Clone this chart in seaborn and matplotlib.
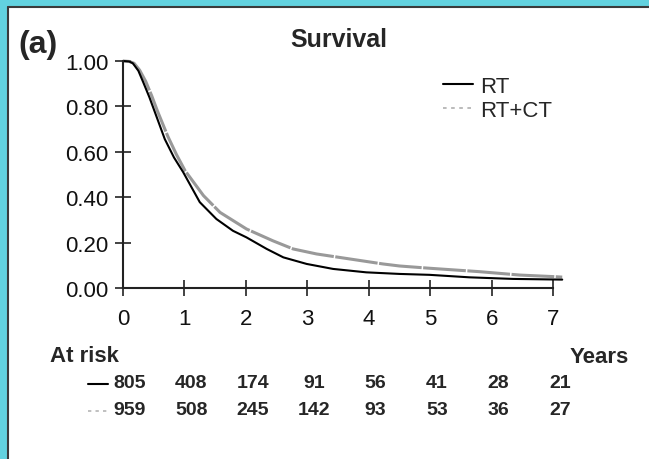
import matplotlib
matplotlib.use("Agg")
import matplotlib.pyplot as plt
import matplotlib.transforms as mtransforms
from matplotlib.lines import Line2D
from matplotlib.patches import Rectangle
import seaborn as sns
import pandas as pd

# ---- data ----
rt_years = [0, 0.1, 0.16, 0.25, 0.33, 0.43, 0.52, 0.68, 0.83, 0.98, 1.25, 1.52, 1.79, 2.01, 2.34,
            2.61, 2.99, 3.42, 3.96, 4.5, 4.99, 5.64, 6.35, 7.15]
rt_surv = [1.0, 0.998, 0.99, 0.957, 0.906, 0.84, 0.774, 0.656, 0.575, 0.51, 0.378, 0.304, 0.252, 0.223, 0.172,
           0.135, 0.106, 0.084, 0.069, 0.062, 0.058, 0.047, 0.04, 0.037]
rtct_years = [0, 0.1, 0.18, 0.27, 0.37, 0.47, 0.56, 0.73, 0.87, 1.01, 1.31, 1.58, 2.01, 2.44, 2.77,
              3.15, 3.69, 4.23, 4.5, 4.99, 5.8, 6.46, 7.02, 7.15]
rtct_surv = [1.0, 0.998, 0.99, 0.96, 0.91, 0.845, 0.78, 0.668, 0.588, 0.517, 0.407, 0.333, 0.26, 0.208, 0.172,
             0.15, 0.128, 0.106, 0.097, 0.087, 0.072, 0.057, 0.05, 0.048]
risk_years = [0, 1, 2, 3, 4, 5, 6, 7]
risk_rt = [805, 408, 174, 91, 56, 41, 28, 21]
risk_rtct = [959, 508, 245, 142, 93, 53, 36, 27]
yticks = [0.0, 0.2, 0.4, 0.6, 0.8, 1.0]
ytick_labels = ["0.00", "0.20", "0.40", "0.60", "0.80", "1.00"]
xticks = [0, 1, 2, 3, 4, 5, 6, 7]

sns.set_style("white")
plt.rcParams['font.family'] = ['Liberation Sans', 'DejaVu Sans']

W, H = 649, 460
fig = plt.figure(figsize=(W / 100, H / 100), dpi=100)
fig.patch.set_facecolor("white")

# cyan frame (top and left)
cyan = "#62d2df"
fig.patches.append(Rectangle((0, 1 - 7 / H), 1, 7 / H, transform=fig.transFigure,
                             facecolor=cyan, edgecolor="none", zorder=0))
fig.patches.append(Rectangle((0, 0), 7 / W, 1, transform=fig.transFigure,
                             facecolor=cyan, edgecolor="none", zorder=0))
fig.add_artist(Line2D([8 / W, 1], [1 - 8 / H, 1 - 8 / H], transform=fig.transFigure,
                      color="#3a3a3a", lw=1.5))
fig.add_artist(Line2D([8 / W, 8 / W], [0, 1 - 8 / H], transform=fig.transFigure,
                      color="#3a3a3a", lw=1.5))

ax = fig.add_axes([123 / W, 171 / H, 442.3 / W, 227 / H])
ax.set_facecolor("none")

df_rt = pd.DataFrame({"years": rt_years, "surv": rt_surv})
df_rtct = pd.DataFrame({"years": rtct_years, "surv": rtct_surv})

sns.lineplot(data=df_rtct, x="years", y="surv", ax=ax, color="#999999", lw=2.2,
             label="RT+CT", clip_on=False)
ax.lines[-1].set_dashes((14, 0.5))
sns.lineplot(data=df_rt, x="years", y="surv", ax=ax, color="black", lw=1.5,
             label="RT", clip_on=False)

ax.set_xlim(0, 7.2)
ax.set_ylim(0, 1)
ax.set_xticks(xticks)
ax.set_xticklabels([str(v) for v in xticks])
ax.set_yticks(yticks)
ax.set_yticklabels(ytick_labels)
ax.set_xlabel("")
ax.set_ylabel("")
for s in ["top", "right"]:
    ax.spines[s].set_visible(False)
for s in ["left", "bottom"]:
    ax.spines[s].set_linewidth(1.5)
    ax.spines[s].set_color("#222222")
ax.spines["bottom"].set_bounds(0, 7)
ax.tick_params(axis="both", bottom=True, left=True, direction="inout", length=11,
               width=1.2, color="#222222", labelsize=16, labelcolor="#111111")
ax.tick_params(axis="x", pad=9)
ax.tick_params(axis="y", pad=5)

handles = [Line2D([], [], color="black", lw=1.5),
           Line2D([], [], color="#b5b5b5", lw=1.3, dashes=(2, 2.5))]
leg = ax.legend(handles, ["RT", "RT+CT"], frameon=False, fontsize=16,
                loc="upper left", bbox_to_anchor=(443 / W, 1 - 77 / H),
                bbox_transform=fig.transFigure, handlelength=1.35, handletextpad=0.3,
                labelspacing=0.12, borderpad=0, borderaxespad=0)

fig.text(18 / W, 1 - 45 / H, "(a)", fontsize=23, fontweight="bold", ha="left", va="center")
fig.text(339 / W, 1 - 40 / H, "Survival", fontsize=18, fontweight="bold", ha="center", va="center")
fig.text(50 / W, 1 - 357 / H, "At risk", fontsize=16, fontweight="bold", ha="left", va="center")
fig.text(629 / W, 1 - 358 / H, "Years", fontsize=16, fontweight="bold", ha="right", va="center")

trans = mtransforms.blended_transform_factory(ax.transData, fig.transFigure)
for yr, a, b in zip(risk_years, risk_rt, risk_rtct):
    ax.text(yr + 0.11, 1 - 384 / H, str(a), transform=trans, ha="center", va="center",
            fontsize=14, fontweight="bold", clip_on=False)
    ax.text(yr + 0.11, 1 - 411 / H, str(b), transform=trans, ha="center", va="center",
            fontsize=14, fontweight="bold", clip_on=False)

fig.add_artist(Line2D([88 / W, 108 / W], [1 - 385 / H] * 2, transform=fig.transFigure,
                      color="black", lw=1.5))
fig.add_artist(Line2D([88 / W, 108 / W], [1 - 412 / H] * 2, transform=fig.transFigure,
                      color="#b5b5b5", lw=1.2, dashes=(2, 2.5)))

fig.savefig("out.png", dpi=100, facecolor="white")
